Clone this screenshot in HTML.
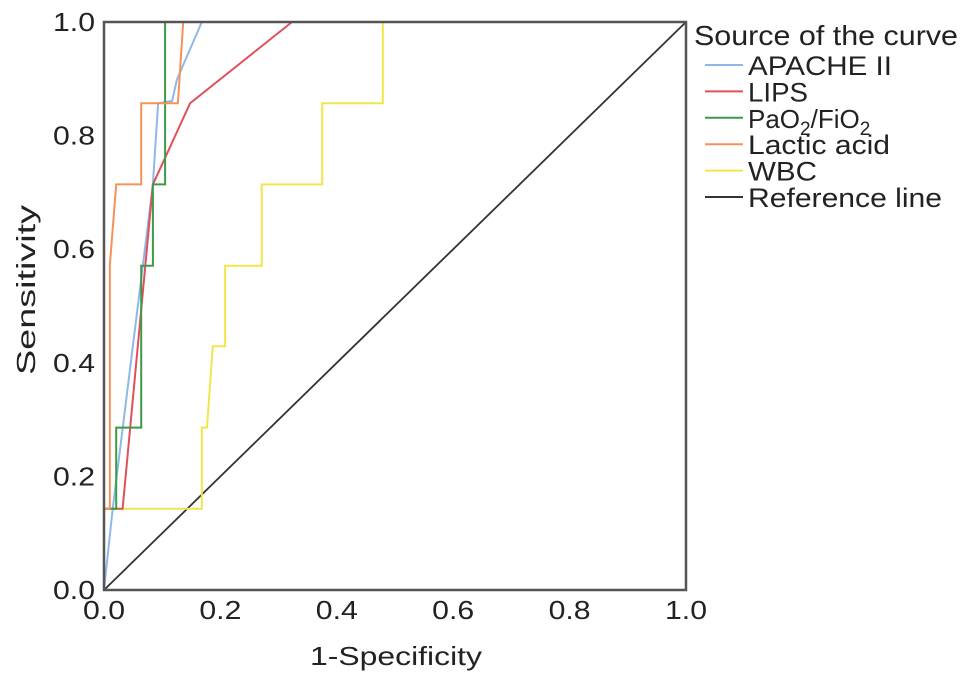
<!DOCTYPE html>
<html><head><meta charset="utf-8"><style>
html,body{margin:0;padding:0;background:#fff;}
svg{display:block;font-family:"Liberation Sans",Arial,sans-serif;}
</style></head><body>
<svg id="chart" width="969" height="682" viewBox="0 0 969 682">
<g id="plot"></g>
<g id="axes"></g>
<g id="legend"></g>
</svg>
<script>
const xTicks = [0, 0.2, 0.4, 0.6, 0.8, 1.0];
const yTicks = [0, 0.2, 0.4, 0.6, 0.8, 1.0];
const apacheX = [0, 0.015, 0.084, 0.093, 0.117, 0.125, 0.168];
const apacheY = [0, 0.143, 0.714, 0.857, 0.861, 0.898, 1];
const lipsX = [0, 0, 0.032, 0.084, 0.148, 0.323];
const lipsY = [0, 0.143, 0.143, 0.714, 0.857, 1];
const paoX = [0, 0, 0.021, 0.021, 0.064, 0.064, 0.084, 0.084, 0.105, 0.105];
const paoY = [0, 0.143, 0.143, 0.286, 0.286, 0.571, 0.571, 0.714, 0.714, 1];
const lacticX = [0, 0, 0.01, 0.01, 0.021, 0.064, 0.064, 0.127, 0.136];
const lacticY = [0, 0.143, 0.143, 0.571, 0.714, 0.714, 0.857, 0.857, 1];
const wbcX = [0, 0, 0.168, 0.168, 0.177, 0.187, 0.208, 0.208, 0.271, 0.271, 0.375, 0.375, 0.479, 0.479];
const wbcY = [0, 0.143, 0.143, 0.286, 0.286, 0.429, 0.429, 0.571, 0.571, 0.714, 0.714, 0.857, 0.857, 1];
const refX = [0, 1];
const refY = [0, 1];
const seriesNames = ["APACHE II", "LIPS", "PaO2/FiO2", "Lactic acid", "WBC", "Reference line"];
const seriesColors = ["#8fb8e8", "#e0505a", "#3e9a48", "#f5925a", "#f0e64a", "#333333"];
const legendWidths = [144, 60, 140, 142, 69, 194];

const X0 = 104, X1 = 686, Y0 = 590, Y1 = 22;
const sx = v => X0 + v * (X1 - X0);
const sy = v => Y0 - v * (Y0 - Y1);
const NS = "http://www.w3.org/2000/svg";
function mk(tag, attrs, parent) { const e = document.createElementNS(NS, tag); for (const k in attrs) e.setAttribute(k, attrs[k]); parent.appendChild(e); return e; }
const plot = document.getElementById('plot'), axes = document.getElementById('axes'), legend = document.getElementById('legend');

const frame = mk('rect', {x: X0, y: Y1, width: X1 - X0, height: Y0 - Y1, fill: 'none', stroke: '#555', 'stroke-width': 2.5}, axes);



xTicks.forEach(t => {
  const tx = mk('text', {x: sx(t), y: 619, 'font-size': 26, 'text-anchor': 'middle', fill: '#222', textLength: 42, lengthAdjust: 'spacingAndGlyphs'}, axes);
  tx.textContent = t.toFixed(1);
  
  
});
yTicks.forEach(t => {
  const ty = mk('text', {x: 95, y: sy(t) + 9, 'font-size': 26, 'text-anchor': 'end', fill: '#222', textLength: 42, lengthAdjust: 'spacingAndGlyphs'}, axes);
  ty.textContent = t.toFixed(1);
  
  
});
const xt = mk('text', {x: 396, y: 665, 'font-size': 26, 'text-anchor': 'middle', fill: '#222', textLength: 172, lengthAdjust: 'spacingAndGlyphs'}, axes);
xt.textContent = '1-Specificity';


const yt = mk('text', {x: 0, y: 0, 'font-size': 26, 'text-anchor': 'middle', fill: '#222', textLength: 170, lengthAdjust: 'spacingAndGlyphs', transform: 'translate(35,290) rotate(-90)'}, axes);
yt.textContent = 'Sensitivity';



const allX = [apacheX, lipsX, paoX, lacticX, wbcX, refX];
const allY = [apacheY, lipsY, paoY, lacticY, wbcY, refY];
const order = [5, 4, 0, 1, 2, 3];
const keys = ['apache-ii', 'lips', 'pao2-fio2', 'lactic-acid', 'wbc', 'reference-line'];
order.forEach(i => {
  const pts = allX[i].map((v, j) => sx(v).toFixed(1) + ',' + sy(allY[i][j]).toFixed(1)).join(' ');
  const pl = mk('polyline', {points: pts, fill: 'none', stroke: seriesColors[i], 'stroke-width': i === 5 ? 1.8 : 2}, plot);
  
  
});

const lt = mk('text', {x: 694, y: 45, 'font-size': 28, fill: '#222', textLength: 264, lengthAdjust: 'spacingAndGlyphs'}, legend);
lt.textContent = 'Source of the curve';


seriesNames.forEach((n, i) => {
  const y = 65 + i * 26.4;
  const g = mk('g', {}, legend);
  
  
  mk('line', {x1: 705, x2: 743, y1: y, y2: y, stroke: seriesColors[i], 'stroke-width': 2}, g);
  const t = mk('text', {x: 748, y: y + 10, 'font-size': 27, fill: '#222', textLength: legendWidths[i], lengthAdjust: 'spacingAndGlyphs'}, g);
  if (i === 2) {
    t.removeAttribute('textLength');
    t.setAttribute('font-size', '26');
    t.innerHTML = 'PaO<tspan font-size="19" dy="7">2</tspan><tspan dy="-7">/FiO</tspan><tspan font-size="19" dy="7">2</tspan>';
  } else t.textContent = n;
});
</script>
</body></html>
